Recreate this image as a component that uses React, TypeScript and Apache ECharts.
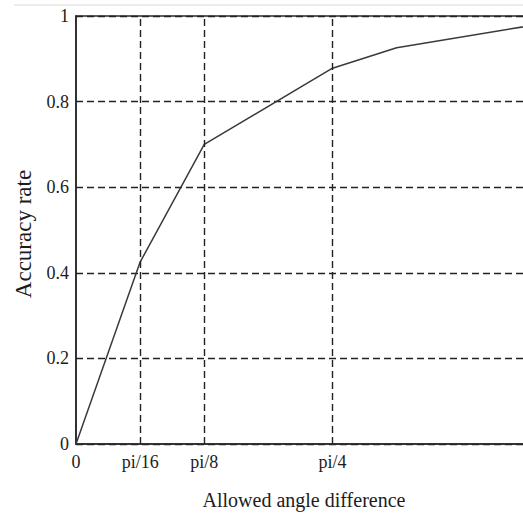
import React, { useEffect, useRef } from "react";
import * as echarts from "echarts";

// Allowed angle difference, in multiples of pi/16
const angleSteps = [0, 1, 2, 4, 5, 8];
// Accuracy rate at each allowed angle difference
const accuracy = [0, 0.425, 0.7, 0.878, 0.926, 1.0];

// Labelled positions on the x axis (multiples of pi/16) and their texts
const xTickValues = [0, 1, 2, 4];
const xTickLabels = ["0", "pi/16", "pi/8", "pi/4"];

const xTitle = "Allowed angle difference";
const yTitle = "Accuracy rate";

const FONT = "'Liberation Serif', 'Times New Roman', serif";
const INK = "#1c1c1c";

export default function App() {
  const ref = useRef<HTMLDivElement>(null);

  useEffect(() => {
    if (!ref.current) return;
    const chart = echarts.init(ref.current, undefined, { renderer: "svg" });
    const dashed = { type: [7, 4] as number[], color: "#222", width: 1.4 };

    chart.setOption({
      animation: false,
      backgroundColor: "#fff",
      grid: {
        left: 76,
        top: 16,
        height: 428,
        width: 513,
        outerBoundsMode: "none",
        containLabel: false,
        show: true,
        borderColor: "#2a2a2a",
        borderWidth: 1.6,
        backgroundColor: "transparent",
      },
      xAxis: {
        type: "value",
        min: 0,
        max: 8,
        interval: 1,
        axisLine: { show: true, lineStyle: { color: "#2a2a2a", width: 1.6 } },
        axisTick: { show: false },
        splitLine: { show: false },
        axisLabel: {
          customValues: xTickValues,
          margin: 9,
          fontFamily: FONT,
          fontSize: 18,
          color: INK,
          formatter: (v: number) => {
            const i = xTickValues.indexOf(v);
            return i >= 0 ? xTickLabels[i] : "";
          },
        },
      },
      yAxis: {
        type: "value",
        min: 0,
        max: 1,
        interval: 0.2,
        axisLine: { show: true, lineStyle: { color: "#2a2a2a", width: 1.6 } },
        axisTick: { show: false },
        splitLine: { show: true, lineStyle: dashed },
        axisLabel: {
          margin: 7,
          fontFamily: FONT,
          fontSize: 18,
          color: INK,
        },
      },
      series: [
        {
          type: "line",
          data: angleSteps.map((a, i) => [a, accuracy[i]]),
          showSymbol: false,
          lineStyle: { color: "#3a3a3a", width: 1.5 },
          markLine: {
            silent: true,
            symbol: "none",
            label: { show: false },
            lineStyle: dashed,
            data: xTickValues.filter((v) => v > 0).map((v) => ({ xAxis: v })),
          },
        },
      ],
      graphic: [
        {
          type: "line",
          shape: { x1: 14, y1: 5, x2: 523, y2: 5 },
          style: { stroke: "#ececec", lineWidth: 2 },
          silent: true,
        },
        {
          type: "text",
          x: 304,
          y: 500,
          style: {
            text: xTitle,
            fontFamily: FONT,
            fontSize: 20,
            fill: INK,
            align: "center",
            verticalAlign: "middle",
          },
        },
        {
          type: "text",
          x: 23,
          y: 234,
          rotation: Math.PI / 2,
          style: {
            text: yTitle,
            fontFamily: FONT,
            fontSize: 23,
            fill: INK,
            align: "center",
            verticalAlign: "middle",
          },
        },
      ],
    });

    return () => chart.dispose();
  }, []);

  return (
    <div
      ref={ref}
      style={{ position: "fixed", left: 0, top: 0, width: 523, height: 517 }}
    />
  );
}
